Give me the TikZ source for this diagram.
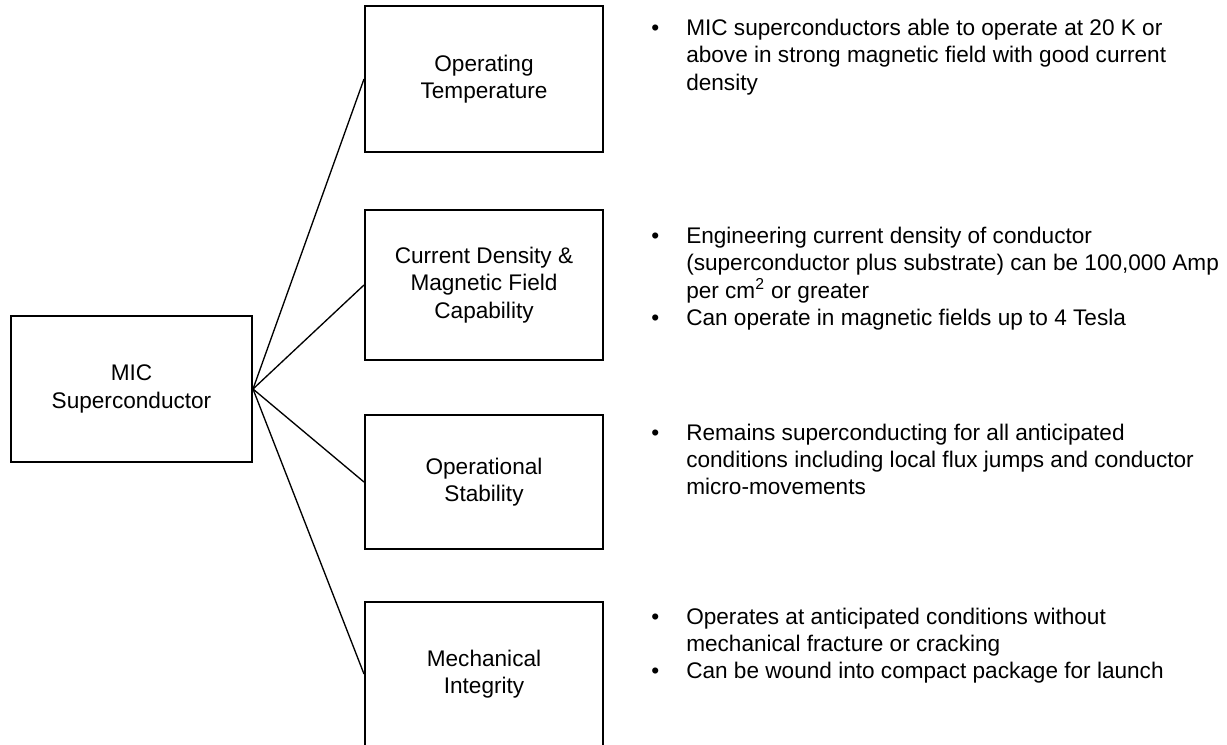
\documentclass[tikz,border=0pt]{standalone}
\usepackage{fontspec}
\setmainfont{Liberation Sans}
\usepackage{array}

% bullet list with fixed line breaks
\newcommand{\notes}[1]{\begin{tabular}[t]{@{}p{26.25pt}@{}l@{}}#1\end{tabular}}

\begin{document}
\begin{tikzpicture}[x=0.75pt, y=-0.75pt,
	font=\fontsize{16.95pt}{20.6pt}\selectfont,
	blk/.style={draw, line width=1.5pt, minimum width=178.5pt, align=center, inner sep=2pt},
	link/.style={line width=1pt},
	txt/.style={anchor=base west, inner sep=0pt}]
	\useasboundingbox (0,0) rectangle (1227,744);
	\clip (0,0) rectangle (1227,744);

	\node[blk, minimum width=180.75pt, minimum height=109.5pt] (mic) at (131.5,389) {MIC\\Superconductor};
	\node[blk, minimum height=109.5pt] (temp) at (484,79) {Operating\\Temperature};
	\node[blk, minimum height=112.5pt] (dens) at (484,285) {Current Density \&\\Magnetic Field\\Capability};
	\node[blk, minimum height=100.5pt] (stab) at (484,482) {Operational\\Stability};
	\node[blk, minimum height=108pt] (mech) at (484,674) {Mechanical\\Integrity};

	\foreach \b in {temp,dens,stab,mech}
		\draw[link] (mic.east) -- (\b.west);

	\node[txt] (ttemp) at (651,35.5) {\notes{%
		\textbullet & MIC superconductors able to operate at 20 K or\\
		& above in strong magnetic field with good current\\
		& density}};
	\node[txt] (tdens) at (651,243) {\notes{%
		\textbullet & Engineering current density of conductor\\
		& (superconductor plus substrate) can be 100,000 Amp\\
		& per cm\textsuperscript{2} or greater\\
		\textbullet & Can operate in magnetic fields up to 4 Tesla}};
	\node[txt] (tstab) at (651,440) {\notes{%
		\textbullet & Remains superconducting for all anticipated\\
		& conditions including local flux jumps and conductor\\
		& micro-movements}};
	\node[txt] (tmech) at (651,624) {\notes{%
		\textbullet & Operates at anticipated conditions without\\
		& mechanical fracture or cracking\\
		\textbullet & Can be wound into compact package for launch}};
\end{tikzpicture}
\end{document}
